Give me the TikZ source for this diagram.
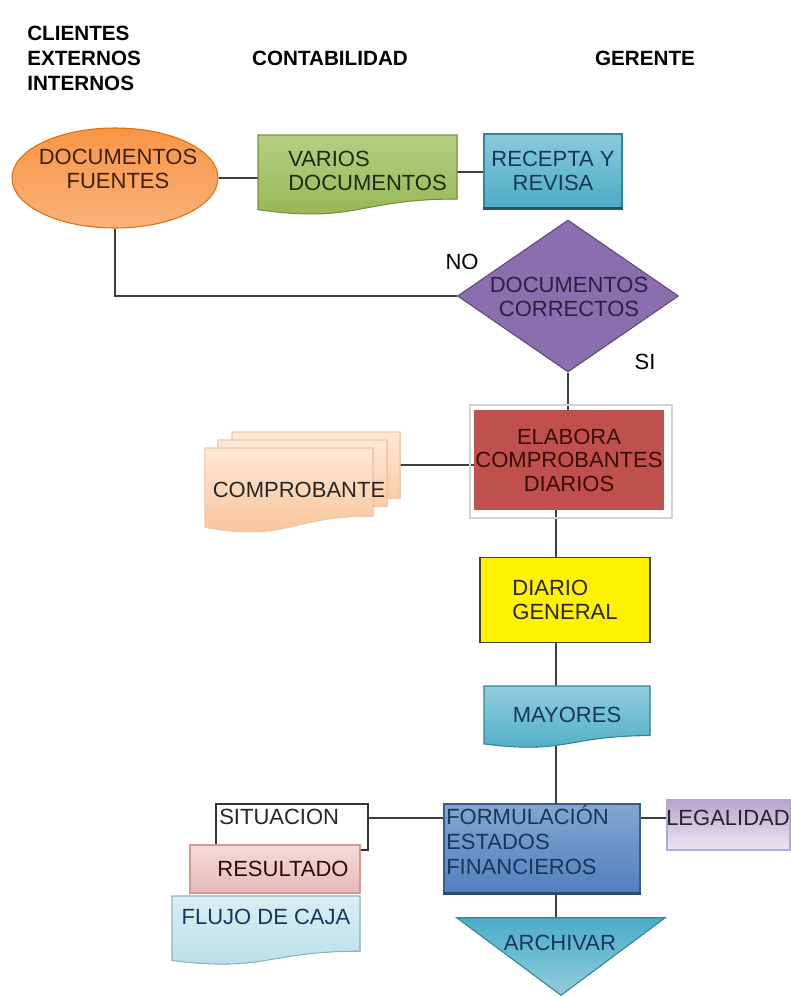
\documentclass[tikz,border=0pt]{standalone}
\usepackage{fontspec}
\setmainfont{Liberation Sans}
\usetikzlibrary{shapes.geometric,backgrounds}

\definecolor{linkgray}{HTML}{3F3F3F}
\definecolor{orangeA}{HTML}{F79646}
\definecolor{orangeB}{HTML}{FBB27A}
\definecolor{orangeD}{HTML}{E46C0A}
\definecolor{greenA}{HTML}{B5CF83}
\definecolor{greenB}{HTML}{94B650}
\definecolor{greenD}{HTML}{76923C}
\definecolor{aquaA}{HTML}{4BACC6}
\definecolor{aquaL}{HTML}{92CDDC}
\definecolor{aquaP}{HTML}{B7DEE8}
\definecolor{aquaPP}{HTML}{DAEEF3}
\definecolor{aquaD}{HTML}{31859C}
\definecolor{aquaDD}{HTML}{215968}
\definecolor{violetA}{HTML}{8A6EAE}
\definecolor{violetD}{HTML}{5F497A}
\definecolor{redA}{HTML}{C0504D}
\definecolor{peachA}{HTML}{FDE9D9}
\definecolor{peachB}{HTML}{FAC090}
\definecolor{peachD}{HTML}{F0C8A8}
\definecolor{blueA}{HTML}{4F81BD}
\definecolor{blueD}{HTML}{385D8A}
\definecolor{pinkA}{HTML}{F2DCDB}
\definecolor{pinkB}{HTML}{E6B9B8}
\definecolor{pinkD}{HTML}{D99694}
\definecolor{lilacA}{HTML}{B7A6CF}
\definecolor{lilacB}{HTML}{ECE7F2}
\definecolor{txtBrown}{HTML}{3F1F05}
\definecolor{txtGreen}{HTML}{1E2A0B}
\definecolor{txtNavy}{HTML}{17365D}
\definecolor{txtPlum}{HTML}{2E1F45}
\definecolor{txtWine}{HTML}{3A0B0A}

\begin{document}
\begin{tikzpicture}[x=0.75pt,y=-0.75pt,
  every node/.style={inner sep=0pt, font=\fontsize{16.5}{17.6}\selectfont},
  head/.style={font=\fontsize{15.5}{18.7}\selectfont\bfseries, align=left},
  link/.style={draw=linkgray, line width=1.4pt},
  outline/.style={line width=0.8pt},
  ghost/.style={draw=none, fill=none, rectangle}]

\useasboundingbox (0,0) rectangle (790,997);

% column headings
\node[head, anchor=north west] (hClientes) at (27,26) {CLIENTES\\EXTERNOS\\INTERNOS};
\node[head] (hConta) at (330,58) {CONTABILIDAD};
\node[head] (hGerente) at (645,58) {GERENTE};

% source documents
\node[ellipse, minimum width=154.5pt, minimum height=75pt, top color=orangeA,
      bottom color=orangeB, draw=orangeD, outline] (ef) at (115,178) {};
\node[text=txtBrown, align=center] (efT) at (118,169) {DOCUMENTOS\\FUENTES};

% various documents (document shape)
\fill[top color=greenA, bottom color=greenB, draw=greenD, outline]
  (258,135) -- (457,135) -- (457,199)
  .. controls (357.5,199) and (357.5,223.6) .. (258,209.7) -- cycle;
\node[ghost, minimum width=149.25pt, minimum height=56pt] (vd) at (357.5,172) {};
\node[text=txtGreen, align=left, anchor=west] (vdT) at (288,171) {VARIOS\\DOCUMENTOS};

% receive and review
\node[rectangle, minimum width=103.5pt, minimum height=55.5pt, top color=aquaA!65!white,
      bottom color=aquaA, draw=aquaD, outline, text=txtNavy, align=center]
      (rr) at (553,171) {RECEPTA Y\\REVISA};
\draw[aquaDD, line width=2pt] (rr.south west) -- (rr.south east);

% decision
\node[diamond, minimum width=165.75pt, minimum height=114pt, fill=violetA,
      draw=violetD, outline] (dc) at (568,296) {};
\node[text=txtPlum, align=center] (dcT) at (569,297) {DOCUMENTOS\\CORRECTOS};
\node (no) at (462,262) {NO};
\node (si) at (645,362) {SI};

% journal vouchers
\draw[gray!35, line width=1.2pt] (470,405) rectangle (672,518);
\node[rectangle, minimum width=142.5pt, minimum height=75pt, fill=redA,
      text=txtWine, align=center] (el) at (569,460) {ELABORA\\COMPROBANTES\\DIARIOS};

% voucher stack (multi-document shape)
\fill[top color=peachA, bottom color=peachB, draw=peachD, outline]
  (232,432) -- (400,432) -- (400,498.4)
  .. controls (316,498.4) and (316,523.9) .. (232,509.5) -- cycle;
\fill[top color=peachA, bottom color=peachB, draw=peachD, outline]
  (218,440) -- (387,440) -- (387,506.4)
  .. controls (302.5,506.4) and (302.5,531.9) .. (218,517.5) -- cycle;
\fill[top color=peachA, bottom color=peachB, draw=peachD, outline]
  (205,448) -- (373,448) -- (373,516)
  .. controls (289,516) and (289,542.1) .. (205,527.4) -- cycle;
\node[ghost, minimum width=126pt, minimum height=60pt] (cp) at (289,486) {};
\node[text=black!85] (cpT) at (299,490) {COMPROBANTE};
\coordinate (cpLink) at (395,465);

% general journal
\node[rectangle, minimum width=127.5pt, minimum height=63.75pt, fill=yellow,
      draw=black!75, line width=1.2pt, align=left, text=black!85] (dg) at (565,600) {DIARIO\\GENERAL};

% ledgers (document shape)
\fill[top color=aquaL, bottom color=aquaA, draw=aquaD, outline]
  (484,686) -- (650,686) -- (650,735.6)
  .. controls (567,735.6) and (567,754.6) .. (484,743.9) -- cycle;
\node[ghost, minimum width=124.5pt, minimum height=45pt] (my) at (567,714) {};
\node[text=txtNavy] (myT) at (567,715) {MAYORES};

% financial statements
\node[rectangle, minimum width=147pt, minimum height=66.75pt, top color=blueA!70!white,
      bottom color=blueA, draw=blueD, outline] (fe) at (542,848.5) {};
\draw[blueD!80!black, line width=2pt] (fe.south west) -- (fe.south east);
\node[text=txtNavy, align=left, anchor=west, font=\fontsize{16.5}{18.6}\selectfont]
  (feT) at (446,840) {FORMULACIÓN\\ESTADOS\\FINANCIEROS};

% statements produced
\node[rectangle, minimum width=114pt, minimum height=34.5pt, fill=white,
      draw=black!80, line width=1.2pt] (st) at (292,827) {};
\node[anchor=west, text=black!85] (stT) at (219,817) {SITUACION};
\node[rectangle, minimum width=127.5pt, minimum height=36pt, top color=pinkA,
      bottom color=pinkB, draw=pinkD, outline] (rs) at (275,869) {};
\node[text=txtWine!80!black] (rsT) at (283,869) {RESULTADO};
\fill[top color=aquaPP, bottom color=aquaP, draw=aquaP!80!black, outline]
  (172,896) -- (360,896) -- (360,951.2)
  .. controls (266,951.2) and (266,972.4) .. (172,960.4) -- cycle;
\node[ghost, minimum width=141pt, minimum height=45pt] (fc) at (266,925) {};
\node[text=txtNavy] (fcT) at (266,917) {FLUJO DE CAJA};

% legality
\node[rectangle, minimum width=92.25pt, minimum height=37.5pt, top color=lilacA,
      bottom color=lilacB, draw=lilacA, outline] (lg) at (728.5,825) {};
\node[text=black!85] (lgT) at (728,818) {LEGALIDAD};

% archive (merge triangle)
\node[ghost, minimum width=156pt, minimum height=57.75pt] (ar) at (561,956.5) {};
\fill[top color=aquaA, bottom color=aquaL, draw=aquaD, outline]
  (ar.north west) -- (ar.north east) -- (ar.south) -- cycle;
\node[text=txtNavy] (arT) at (560,943) {ARCHIVAR};

% connectors
\coordinate (spine) at (556,0);
\coordinate (row) at (0,818);
\begin{scope}[on background layer]
  \draw[link] (ef) -- (ef -| vd);
  \draw[link] (vd) -- (vd -| rr);
  \draw[link] (ef) |- (dc);
  \draw[link] (dc) -- (dc |- el);
  \draw[link] (cpLink) -- (cpLink -| el);
  \draw[link] (el -| spine) -- (dg -| spine);
  \draw[link] (dg -| spine) -- (my -| spine);
  \draw[link] (my -| spine) -- (fe -| spine);
  \draw[link] (fe -| spine) -- (ar -| spine);
  \draw[link] (st |- row) -- (fe |- row);
  \draw[link] (fe |- row) -- (lg |- row);
\end{scope}
\end{tikzpicture}
\end{document}
